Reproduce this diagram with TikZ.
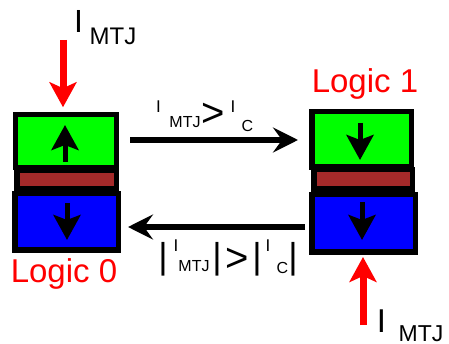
\documentclass[tikz,border=0pt]{standalone}
\usepackage{fontspec}
\setmainfont{Liberation Sans}
\usetikzlibrary{arrows.meta}
\newcommand{\fsz}[1]{\fontsize{#1}{#1}\selectfont}
\definecolor{mtjgreen}{RGB}{0,255,0}
\definecolor{mtjbrown}{RGB}{165,42,42}
\definecolor{mtjblue}{RGB}{0,0,255}

\begin{document}
\begin{tikzpicture}[x=1pt,y=-1pt,
	layer/.style={draw, line width=5.5pt, inner sep=0pt},
	spin/.style={line width=5pt, -{Stealth[length=25pt,width=27pt,inset=5pt]}},
	current/.style={red, line width=7pt, -{Stealth[length=25pt,width=27pt,inset=6pt]}},
	flip/.style={line width=6.5pt, -{Stealth[length=25pt,width=25pt,inset=9pt]}},
	lbl/.style={inner sep=0pt, anchor=base}]
	\useasboundingbox (0,0) rectangle (449,344);

	% left stack: logic 0
	\node [layer, fill=mtjgreen, minimum width=101pt, minimum height=53pt] (greenL) at (66,141) {};
	\node [layer, fill=mtjbrown, minimum width=99.5pt, minimum height=18.5pt] (brownL) at (66.5,180) {};
	\node [layer, fill=mtjblue, minimum width=103.5pt, minimum height=56.5pt] (blueL) at (66.5,222) {};

	% right stack: logic 1
	\node [layer, fill=mtjgreen, minimum width=99.5pt, minimum height=55.5pt] (greenR) at (361.5,139.5) {};
	\node [layer, fill=mtjbrown, minimum width=98.5pt, minimum height=19.5pt] (brownR) at (363,179.5) {};
	\node [layer, fill=mtjblue, minimum width=103.5pt, minimum height=57.5pt] (blueR) at (363.5,223.5) {};

	% magnetisation
	\draw [spin] (greenL.center) ++(-1,21) -- ++(0,-37);
	\draw [spin] (blueL.center) ++(0.5,-19) -- ++(0,37);
	\draw [spin] (greenR.center) ++(-1.5,-16.5) -- ++(0,37);
	\draw [spin] (blueR.center) ++(-1.5,-21.5) -- ++(0,38);

	% currents
	\coordinate (imtjL) at (63,40);
	\coordinate (imtjR) at (363,325);
	\draw [current, shorten >=4.5pt] (imtjL) -- (imtjL |- greenL.north);
	\draw [current, shorten >=2pt] (imtjR) -- (imtjR |- blueR.south);

	\node [lbl] (iL) at (78.5,33) {\fsz{32}I};
	\node [lbl] (mtjL) at (113,45) {\fsz{24}MTJ};
	\node [lbl] (iR) at (381.5,332) {\fsz{33}I};
	\node [lbl] (mtjR) at (421,341) {\fsz{23}MTJ};

	\node [lbl, red] (logic1) at (365,93) {\fsz{33}Logic 1};
	\node [lbl, red] (logic0) at (64,283) {\fsz{33}Logic 0};

	% switching
	\draw [flip, shorten <=11pt, shorten >=11pt] ([yshift=1pt]greenL.east) -- ([yshift=1pt]greenL.east -| greenR.west);
	\draw [flip, shorten <=4pt, shorten >=7pt] ([yshift=-3.5pt]blueR.west) -- ([yshift=-3.5pt]blueR.west -| blueL.east);

	\node [lbl] (topI) at (158.5,113) {\fsz{17}I};
	\node [lbl] (topMTJ) at (185,128) {\fsz{16}MTJ};
	\node [inner sep=0pt] (topGt) at (213,115) {\fsz{40}>};
	\node [lbl] (topIc) at (233,113) {\fsz{17}I};
	\node [lbl] (topC) at (247.5,132) {\fsz{16}C};

	\foreach \x/\n in {163/a,217/b,257/c,293/d}
		\node [inner sep=0pt] (bar\n) at (\x,259.5) {\fsz{36}|};
	\node [lbl] (botI) at (176,252) {\fsz{17}I};
	\node [lbl] (botMTJ) at (194,272) {\fsz{16}MTJ};
	\node [inner sep=0pt] (botGt) at (237.5,260) {\fsz{40}>};
	\node [lbl] (botIc) at (268,252) {\fsz{17}I};
	\node [lbl] (botC) at (282.5,273) {\fsz{16}C};
\end{tikzpicture}
\end{document}
